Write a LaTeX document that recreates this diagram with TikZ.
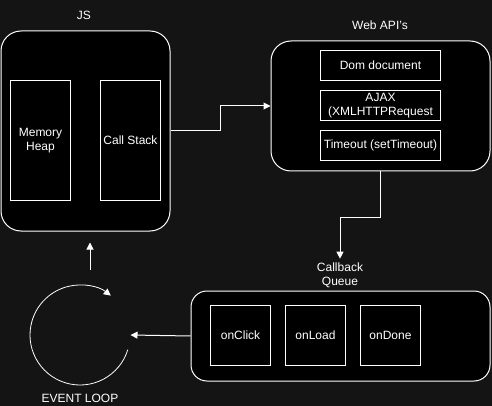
\documentclass[tikz,border=0pt]{standalone}
\usepackage{fontspec}
\setmainfont{Liberation Sans}
\usetikzlibrary{arrows.meta}
\definecolor{bgdark}{RGB}{20,20,20}

\begin{document}
\begin{tikzpicture}[x=1pt, y=-1pt, line width=1pt, white,
        font=\fontsize{12}{14}\selectfont,
        panel/.style={draw, fill=black, rounded corners=20pt, anchor=north west, inner sep=0pt},
        item/.style={draw, fill=black, anchor=north west, inner sep=0pt, align=center},
        arr/.style={-{Triangle[length=7pt,width=7pt]}}]
    \fill[bgdark] (0,0) rectangle (492,406);
    % JS engine
    \node[panel, minimum width=169pt, minimum height=200pt] (js) at (0.5,30.5) {};
    \node (jst) at (84,15) {JS};
    \node[item, minimum width=60pt, minimum height=120pt] (heap) at (10,80) {Memory\\Heap};
    \node[item, minimum width=60pt, minimum height=120pt] (stack) at (100,80) {Call Stack};
    % browser APIs
    \node[panel, minimum width=219pt, minimum height=130pt] (webapi) at (270.5,40.5) {};
    \node (apit) at (380,25) {Web API's};
    \node[item, minimum width=120pt, minimum height=30pt] (dom) at (320,50) {Dom document};
    \node[item, minimum width=120pt, minimum height=30pt] (ajax) at (320,90) {AJAX\\(XMLHTTPRequest};
    \node[item, minimum width=120pt, minimum height=30pt] (timeout) at (320,130) {Timeout (setTimeout)};
    % queue
    \node[panel, rounded corners=16pt, minimum width=299pt, minimum height=90pt] (queue) at (190.5,290.5) {};
    \node[align=center] (cbt) at (340,275) {Callback\\Queue};
    \node[item, minimum width=60pt, minimum height=60pt] (click) at (210,305) {onClick};
    \node[item, minimum width=60pt, minimum height=60pt] (load) at (285,305) {onLoad};
    \node[item, minimum width=60pt, minimum height=60pt] (done) at (360,305) {onDone};
    % event loop
    \node[circle, minimum size=100pt, inner sep=0pt] (loop) at (80,335) {};
    \node (elt) at (80,398) {EVENT LOOP};
    \draw[arr, line width=0.8pt] (loop.center) ++(17:50) arc[start angle=17, end angle=308, radius=50];
    \coordinate (upbase) at (90,270);
    % connectors
    \draw[arr] (js.east) -- ++(50,0) |- (webapi.west);
    \draw[arr] (webapi.south) -- ++(0,46) -| (cbt.north);
    \draw[arr] (queue.west) -- (loop.east);
    \draw[arr, shorten >=11pt] (upbase) -- (upbase |- js.south);
\end{tikzpicture}
\end{document}
